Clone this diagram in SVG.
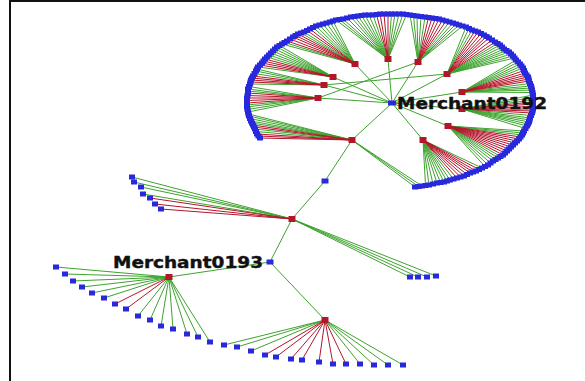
<svg xmlns="http://www.w3.org/2000/svg" xmlns:xlink="http://www.w3.org/1999/xlink" width="585" height="381" viewBox="0 0 585 381">
  <style>
    .g { fill: none; stroke: #3ea32e; stroke-width: 1; }
    .r { fill: none; stroke: #b5152b; stroke-width: 1; }
    .frame { fill: none; stroke: #111; stroke-width: 2; }
    .lbl { font-family: "DejaVu Sans", "Liberation Sans", sans-serif; font-weight: bold; font-size: 15.5px; fill: #111; stroke: #111; stroke-width: 0.4; }
  </style>
  <defs>
    <rect id="lf" x="-3" y="-2.5" width="6" height="5" fill="#2828dc"/>
    <rect id="hb" x="-3.5" y="-3" width="7" height="6" fill="#b3162a"/>
    <rect id="bn" x="-3.5" y="-2.5" width="7" height="5" fill="#2828dc"/>
  </defs>
  <rect width="585" height="381" fill="#fff"/>
  <path class="frame" d="M10 381V1H585"/>

  <!-- connectors -->
  <g id="edges">
    <!-- spine and hub links -->
    <path class="g" d="M392 103L352 140M392 103L318 98M392 103L324 85M392 103L333 77M392 103L355 64M392 103L388 59M392 103L418 62M392 103L447 74M392 103L462 92M392 103L462 109M392 103L448 126M392 103L423 140M324 85L447 74M318 98L418 62M352 140L325 181L292 219L270 262L169 277M270 262L325 320"/>
    <!-- hub A -->
    <path class="g" d="M352 140L255 129M352 140L251 121M352 140L249 116M352 140L422 186M352 140L415 187M352 140L256 131.5M352 140L252 123M352 140L250 118.5M352 140L248.5 114M352 140L418.5 186.5"/>
    <path class="r" d="M352 140L260 138M352 140L257 134M352 140L253 125M352 140L258.5 136M352 140L254 127"/>
    <!-- hub B -->
    <path class="g" d="M318 98L248 112M318 98L247 107M318 98L248 89M318 98L247.5 109.5M318 98L247 105M318 98L248 91M318 98L249 86.5"/>
    <path class="r" d="M318 98L247 103M318 98L247 98M318 98L248 93M318 98L247 100.5M318 98L247.5 95.5"/>
    <!-- hub C -->
    <path class="g" d="M324 85L250 84M324 85L256 71M324 85L254.5 73.5M324 85L257 69"/>
    <path class="r" d="M324 85L251 80M324 85L253 76M324 85L250.5 82M324 85L252 78"/>
    <!-- hub D -->
    <path class="g" d="M333 77L258 67M333 77L269 55M333 77L273 51M333 77L277 47M333 77L267 57M333 77L271 53M333 77L275 49M333 77L279.5 45.5"/>
    <path class="r" d="M333 77L262 63M333 77L265 59M333 77L260 65M333 77L263.5 61"/>
    <!-- hub E -->
    <path class="g" d="M355 64L282 44M355 64L304 32M355 64L316 26M355 64L323 24M355 64L330 22M355 64L284.5 42.5M355 64L301 33M355 64L313 27.5M355 64L319.5 25M355 64L326.5 23M355 64L333 21"/>
    <path class="r" d="M355 64L287 41M355 64L293 37M355 64L298 34M355 64L310 29M355 64L290 39M355 64L295.5 35.5M355 64L307 30.5"/>
    <!-- hub F -->
    <path class="g" d="M388 59L336 20M388 59L343 19M388 59L351 17M388 59L358 16M388 59L365 15M388 59L373 15M388 59L395 14M388 59L403 14M388 59L339.5 19.5M388 59L347 18M388 59L354.5 16.5M388 59L361.5 15.5M388 59L369 15M388 59L391.5 14M388 59L399 14M388 59L406.5 14.5"/>
    <path class="r" d="M388 59L380 14M388 59L388 14M388 59L376.5 14.5M388 59L384 14"/>
    <!-- hub G -->
    <path class="g" d="M418 62L410 15M418 62L417 16M418 62L425 17M418 62L453 23M418 62L459 25M418 62L413.5 15.5M418 62L421 16.5M418 62L449.5 22M418 62L456 24M418 62L462.5 26"/>
    <path class="r" d="M418 62L432 18M418 62L439 19M418 62L446 21M418 62L428.5 17.5M418 62L435.5 18.5M418 62L442.5 20"/>
    <!-- hub H -->
    <path class="g" d="M447 74L466 27M447 74L472 30M447 74L500 45M447 74L504 49M447 74L509 52M447 74L513 56M447 74L469 28.5M447 74L497.5 43.5M447 74L502 47M447 74L506.5 50.5M447 74L511 54M447 74L514.5 58"/>
    <path class="r" d="M447 74L478 32M447 74L484 35M447 74L489 38M447 74L495 42M447 74L475 31M447 74L481 33.5M447 74L486.5 36.5M447 74L492 40"/>
    <!-- hub I -->
    <path class="g" d="M462 92L516 60M462 92L520 64M462 92L523 68M462 92L531 86M462 92L532 90M462 92L518 62M462 92L521.5 66M462 92L530 83.5M462 92L531.5 88M462 92L532.5 92.5"/>
    <path class="r" d="M462 92L525 73M462 92L528 77M462 92L529 81M462 92L524 70.5M462 92L526.5 75M462 92L528.5 79"/>
    <!-- hub J -->
    <path class="g" d="M462 109L533 95M462 109L533 100M462 109L530 118M462 109L529 122M462 109L527 126M462 109L533 97.5M462 109L531 115.5M462 109L529.5 120M462 109L528 124M462 109L525.5 128.5"/>
    <path class="r" d="M462 109L533 104M462 109L533 109M462 109L532 113M462 109L533 102M462 109L533 106.5M462 109L532.5 111"/>
    <!-- hub K -->
    <path class="g" d="M448 126L524 131M448 126L522 135M448 126L498 158M448 126L493 161M448 126L488 165M448 126L523 133M448 126L500.5 156.5M448 126L495.5 159.5M448 126L490.5 163M448 126L485 166.5"/>
    <path class="r" d="M448 126L519 139M448 126L515 143M448 126L511 147M448 126L507 151M448 126L503 155M448 126L520.5 137M448 126L517 141M448 126L513 145M448 126L509 149M448 126L505 153"/>
    <!-- hub L -->
    <path class="g" d="M423 140L482 168M423 140L450 180M423 140L444 182M423 140L437 183M423 140L429 185M423 140L453.5 179M423 140L447 181M423 140L440.5 182.5M423 140L433 184M423 140L425.5 185.5"/>
    <path class="r" d="M423 140L476 171M423 140L470 173M423 140L464 176M423 140L457 178M423 140L479 169.5M423 140L473 172M423 140L467 174.5M423 140L460.5 177"/>
    <!-- hub P -->
    <path class="g" d="M292 219L132 177M292 219L134 182M292 219L141 187M292 219L143 194M292 219L410 277M292 219L418 277M292 219L427 277M292 219L436 276"/>
    <path class="r" d="M292 219L150 198M292 219L155 204M292 219L161 209"/>
    <!-- hub Q -->
    <path class="g" d="M169 277L56 267M169 277L65 274M169 277L73 281M169 277L82 287M169 277L92 293M169 277L104 298M169 277L138 316M169 277L150 320M169 277L161 326M169 277L173 329M169 277L187 334M169 277L198 337M169 277L210 342"/>
    <path class="r" d="M169 277L115 304M169 277L126 309"/>
    <!-- hub R -->
    <path class="g" d="M325 320L224 345M325 320L237 347M325 320L251 351M325 320L360 364M325 320L374 365M325 320L388 365M325 320L403 365"/>
    <path class="r" d="M325 320L265 355M325 320L276 357M325 320L291 359M325 320L302 360M325 320L319 362M325 320L333 364M325 320L346 364"/>
  </g>

  <!-- outer ring of leaves -->
  <g id="ring">
    <use href="#lf" x="260" y="138"/><use href="#lf" x="257" y="134"/><use href="#lf" x="255" y="129"/><use href="#lf" x="253" y="125"/>
    <use href="#lf" x="251" y="121"/><use href="#lf" x="249" y="116"/><use href="#lf" x="248" y="112"/><use href="#lf" x="247" y="107"/>
    <use href="#lf" x="247" y="103"/><use href="#lf" x="247" y="98"/><use href="#lf" x="248" y="93"/><use href="#lf" x="248" y="89"/>
    <use href="#lf" x="250" y="84"/><use href="#lf" x="251" y="80"/><use href="#lf" x="253" y="76"/><use href="#lf" x="256" y="71"/>
    <use href="#lf" x="258" y="67"/><use href="#lf" x="262" y="63"/><use href="#lf" x="265" y="59"/><use href="#lf" x="269" y="55"/>
    <use href="#lf" x="273" y="51"/><use href="#lf" x="277" y="47"/><use href="#lf" x="282" y="44"/><use href="#lf" x="287" y="41"/>
    <use href="#lf" x="293" y="37"/><use href="#lf" x="298" y="34"/><use href="#lf" x="304" y="32"/><use href="#lf" x="310" y="29"/>
    <use href="#lf" x="316" y="26"/><use href="#lf" x="323" y="24"/><use href="#lf" x="330" y="22"/><use href="#lf" x="336" y="20"/>
    <use href="#lf" x="343" y="19"/><use href="#lf" x="351" y="17"/><use href="#lf" x="358" y="16"/><use href="#lf" x="365" y="15"/>
    <use href="#lf" x="373" y="15"/><use href="#lf" x="380" y="14"/><use href="#lf" x="388" y="14"/><use href="#lf" x="395" y="14"/>
    <use href="#lf" x="403" y="14"/><use href="#lf" x="410" y="15"/><use href="#lf" x="417" y="16"/><use href="#lf" x="425" y="17"/>
    <use href="#lf" x="432" y="18"/><use href="#lf" x="439" y="19"/><use href="#lf" x="446" y="21"/><use href="#lf" x="453" y="23"/>
    <use href="#lf" x="459" y="25"/><use href="#lf" x="466" y="27"/><use href="#lf" x="472" y="30"/><use href="#lf" x="478" y="32"/>
    <use href="#lf" x="484" y="35"/><use href="#lf" x="489" y="38"/><use href="#lf" x="495" y="42"/><use href="#lf" x="500" y="45"/>
    <use href="#lf" x="504" y="49"/><use href="#lf" x="509" y="52"/><use href="#lf" x="513" y="56"/><use href="#lf" x="516" y="60"/>
    <use href="#lf" x="520" y="64"/><use href="#lf" x="523" y="68"/><use href="#lf" x="525" y="73"/><use href="#lf" x="528" y="77"/>
    <use href="#lf" x="529" y="81"/><use href="#lf" x="531" y="86"/><use href="#lf" x="532" y="90"/><use href="#lf" x="533" y="95"/>
    <use href="#lf" x="533" y="100"/><use href="#lf" x="533" y="104"/><use href="#lf" x="533" y="109"/><use href="#lf" x="532" y="113"/>
    <use href="#lf" x="530" y="118"/><use href="#lf" x="529" y="122"/><use href="#lf" x="527" y="126"/><use href="#lf" x="524" y="131"/>
    <use href="#lf" x="522" y="135"/><use href="#lf" x="519" y="139"/><use href="#lf" x="515" y="143"/><use href="#lf" x="511" y="147"/>
    <use href="#lf" x="507" y="151"/><use href="#lf" x="503" y="155"/><use href="#lf" x="498" y="158"/><use href="#lf" x="493" y="161"/>
    <use href="#lf" x="488" y="165"/><use href="#lf" x="482" y="168"/><use href="#lf" x="476" y="171"/><use href="#lf" x="470" y="173"/>
    <use href="#lf" x="464" y="176"/><use href="#lf" x="457" y="178"/><use href="#lf" x="450" y="180"/><use href="#lf" x="444" y="182"/>
    <use href="#lf" x="437" y="183"/><use href="#lf" x="429" y="185"/><use href="#lf" x="422" y="186"/><use href="#lf" x="415" y="187"/>
    <!-- in-between leaves -->
    <use href="#lf" x="258.5" y="136"/><use href="#lf" x="256" y="131.5"/><use href="#lf" x="254" y="127"/><use href="#lf" x="252" y="123"/>
    <use href="#lf" x="250" y="118.5"/><use href="#lf" x="248.5" y="114"/><use href="#lf" x="247.5" y="109.5"/><use href="#lf" x="247" y="105"/>
    <use href="#lf" x="247" y="100.5"/><use href="#lf" x="247.5" y="95.5"/><use href="#lf" x="248" y="91"/><use href="#lf" x="249" y="86.5"/>
    <use href="#lf" x="250.5" y="82"/><use href="#lf" x="252" y="78"/><use href="#lf" x="254.5" y="73.5"/><use href="#lf" x="257" y="69"/>
    <use href="#lf" x="260" y="65"/><use href="#lf" x="263.5" y="61"/><use href="#lf" x="267" y="57"/><use href="#lf" x="271" y="53"/>
    <use href="#lf" x="275" y="49"/><use href="#lf" x="279.5" y="45.5"/><use href="#lf" x="284.5" y="42.5"/><use href="#lf" x="290" y="39"/>
    <use href="#lf" x="295.5" y="35.5"/><use href="#lf" x="301" y="33"/><use href="#lf" x="307" y="30.5"/><use href="#lf" x="313" y="27.5"/>
    <use href="#lf" x="319.5" y="25"/><use href="#lf" x="326.5" y="23"/><use href="#lf" x="333" y="21"/><use href="#lf" x="339.5" y="19.5"/>
    <use href="#lf" x="347" y="18"/><use href="#lf" x="354.5" y="16.5"/><use href="#lf" x="361.5" y="15.5"/><use href="#lf" x="369" y="15"/>
    <use href="#lf" x="376.5" y="14.5"/><use href="#lf" x="384" y="14"/><use href="#lf" x="391.5" y="14"/><use href="#lf" x="399" y="14"/>
    <use href="#lf" x="406.5" y="14.5"/><use href="#lf" x="413.5" y="15.5"/><use href="#lf" x="421" y="16.5"/><use href="#lf" x="428.5" y="17.5"/>
    <use href="#lf" x="435.5" y="18.5"/><use href="#lf" x="442.5" y="20"/><use href="#lf" x="449.5" y="22"/><use href="#lf" x="456" y="24"/>
    <use href="#lf" x="462.5" y="26"/><use href="#lf" x="469" y="28.5"/><use href="#lf" x="475" y="31"/><use href="#lf" x="481" y="33.5"/>
    <use href="#lf" x="486.5" y="36.5"/><use href="#lf" x="492" y="40"/><use href="#lf" x="497.5" y="43.5"/><use href="#lf" x="502" y="47"/>
    <use href="#lf" x="506.5" y="50.5"/><use href="#lf" x="511" y="54"/><use href="#lf" x="514.5" y="58"/><use href="#lf" x="518" y="62"/>
    <use href="#lf" x="521.5" y="66"/><use href="#lf" x="524" y="70.5"/><use href="#lf" x="526.5" y="75"/><use href="#lf" x="528.5" y="79"/>
    <use href="#lf" x="530" y="83.5"/><use href="#lf" x="531.5" y="88"/><use href="#lf" x="532.5" y="92.5"/><use href="#lf" x="533" y="97.5"/>
    <use href="#lf" x="533" y="102"/><use href="#lf" x="533" y="106.5"/><use href="#lf" x="532.5" y="111"/><use href="#lf" x="531" y="115.5"/>
    <use href="#lf" x="529.5" y="120"/><use href="#lf" x="528" y="124"/><use href="#lf" x="525.5" y="128.5"/><use href="#lf" x="523" y="133"/>
    <use href="#lf" x="520.5" y="137"/><use href="#lf" x="517" y="141"/><use href="#lf" x="513" y="145"/><use href="#lf" x="509" y="149"/>
    <use href="#lf" x="505" y="153"/><use href="#lf" x="500.5" y="156.5"/><use href="#lf" x="495.5" y="159.5"/><use href="#lf" x="490.5" y="163"/>
    <use href="#lf" x="485" y="166.5"/><use href="#lf" x="479" y="169.5"/><use href="#lf" x="473" y="172"/><use href="#lf" x="467" y="174.5"/>
    <use href="#lf" x="460.5" y="177"/><use href="#lf" x="453.5" y="179"/><use href="#lf" x="447" y="181"/><use href="#lf" x="440.5" y="182.5"/>
    <use href="#lf" x="433" y="184"/><use href="#lf" x="425.5" y="185.5"/><use href="#lf" x="418.5" y="186.5"/>
  </g>

  <!-- ring hubs -->
  <g id="hub-a"><use href="#hb" x="352" y="140"/></g>
  <g id="hub-b"><use href="#hb" x="318" y="98"/></g>
  <g id="hub-c"><use href="#hb" x="324" y="85"/></g>
  <g id="hub-d"><use href="#hb" x="333" y="77"/></g>
  <g id="hub-e"><use href="#hb" x="355" y="64"/></g>
  <g id="hub-f"><use href="#hb" x="388" y="59"/></g>
  <g id="hub-g"><use href="#hb" x="418" y="62"/></g>
  <g id="hub-h"><use href="#hb" x="447" y="74"/></g>
  <g id="hub-i"><use href="#hb" x="462" y="92"/></g>
  <g id="hub-j"><use href="#hb" x="462" y="109"/></g>
  <g id="hub-k"><use href="#hb" x="448" y="126"/></g>
  <g id="hub-l"><use href="#hb" x="423" y="140"/></g>

  <!-- chain nodes -->
  <g id="link-node"><use href="#bn" x="325" y="181"/></g>
  <g id="hub-p"><use href="#hb" x="292" y="219"/></g>
  <g id="hub-q"><use href="#hb" x="169" y="277"/></g>
  <g id="hub-r"><use href="#hb" x="325" y="320"/></g>

  <!-- leaves of hub P -->
  <g id="leaves-p">
    <use href="#lf" x="132" y="177"/><use href="#lf" x="134" y="182"/><use href="#lf" x="141" y="187"/><use href="#lf" x="143" y="194"/>
    <use href="#lf" x="150" y="198"/><use href="#lf" x="155" y="204"/><use href="#lf" x="161" y="209"/>
    <use href="#lf" x="410" y="277"/><use href="#lf" x="418" y="277"/><use href="#lf" x="427" y="277"/><use href="#lf" x="436" y="276"/>
  </g>
  <!-- leaves of hub Q -->
  <g id="leaves-q">
    <use href="#lf" x="56" y="267"/><use href="#lf" x="65" y="274"/><use href="#lf" x="73" y="281"/><use href="#lf" x="82" y="287"/>
    <use href="#lf" x="92" y="293"/><use href="#lf" x="104" y="298"/><use href="#lf" x="115" y="304"/><use href="#lf" x="126" y="309"/>
    <use href="#lf" x="138" y="316"/><use href="#lf" x="150" y="320"/><use href="#lf" x="161" y="326"/><use href="#lf" x="173" y="329"/>
    <use href="#lf" x="187" y="334"/><use href="#lf" x="198" y="337"/><use href="#lf" x="210" y="342"/>
  </g>
  <!-- leaves of hub R -->
  <g id="leaves-r">
    <use href="#lf" x="224" y="345"/><use href="#lf" x="237" y="347"/><use href="#lf" x="251" y="351"/><use href="#lf" x="265" y="355"/>
    <use href="#lf" x="276" y="357"/><use href="#lf" x="291" y="359"/><use href="#lf" x="302" y="360"/><use href="#lf" x="319" y="362"/>
    <use href="#lf" x="333" y="364"/><use href="#lf" x="346" y="364"/><use href="#lf" x="360" y="364"/><use href="#lf" x="374" y="365"/>
    <use href="#lf" x="388" y="365"/><use href="#lf" x="403" y="365"/>
  </g>

  <!-- labelled merchants -->
  <g id="merchant0192">
    <rect x="388" y="100.5" width="8" height="5" fill="#2828dc"/>
    <text class="lbl" x="397" y="109" textLength="150" lengthAdjust="spacingAndGlyphs">Merchant0192</text>
  </g>
  <g id="merchant0193">
    <use href="#bn" x="270" y="262"/>
    <text class="lbl" x="113" y="267.5" textLength="150" lengthAdjust="spacingAndGlyphs">Merchant0193</text>
  </g>
</svg>
